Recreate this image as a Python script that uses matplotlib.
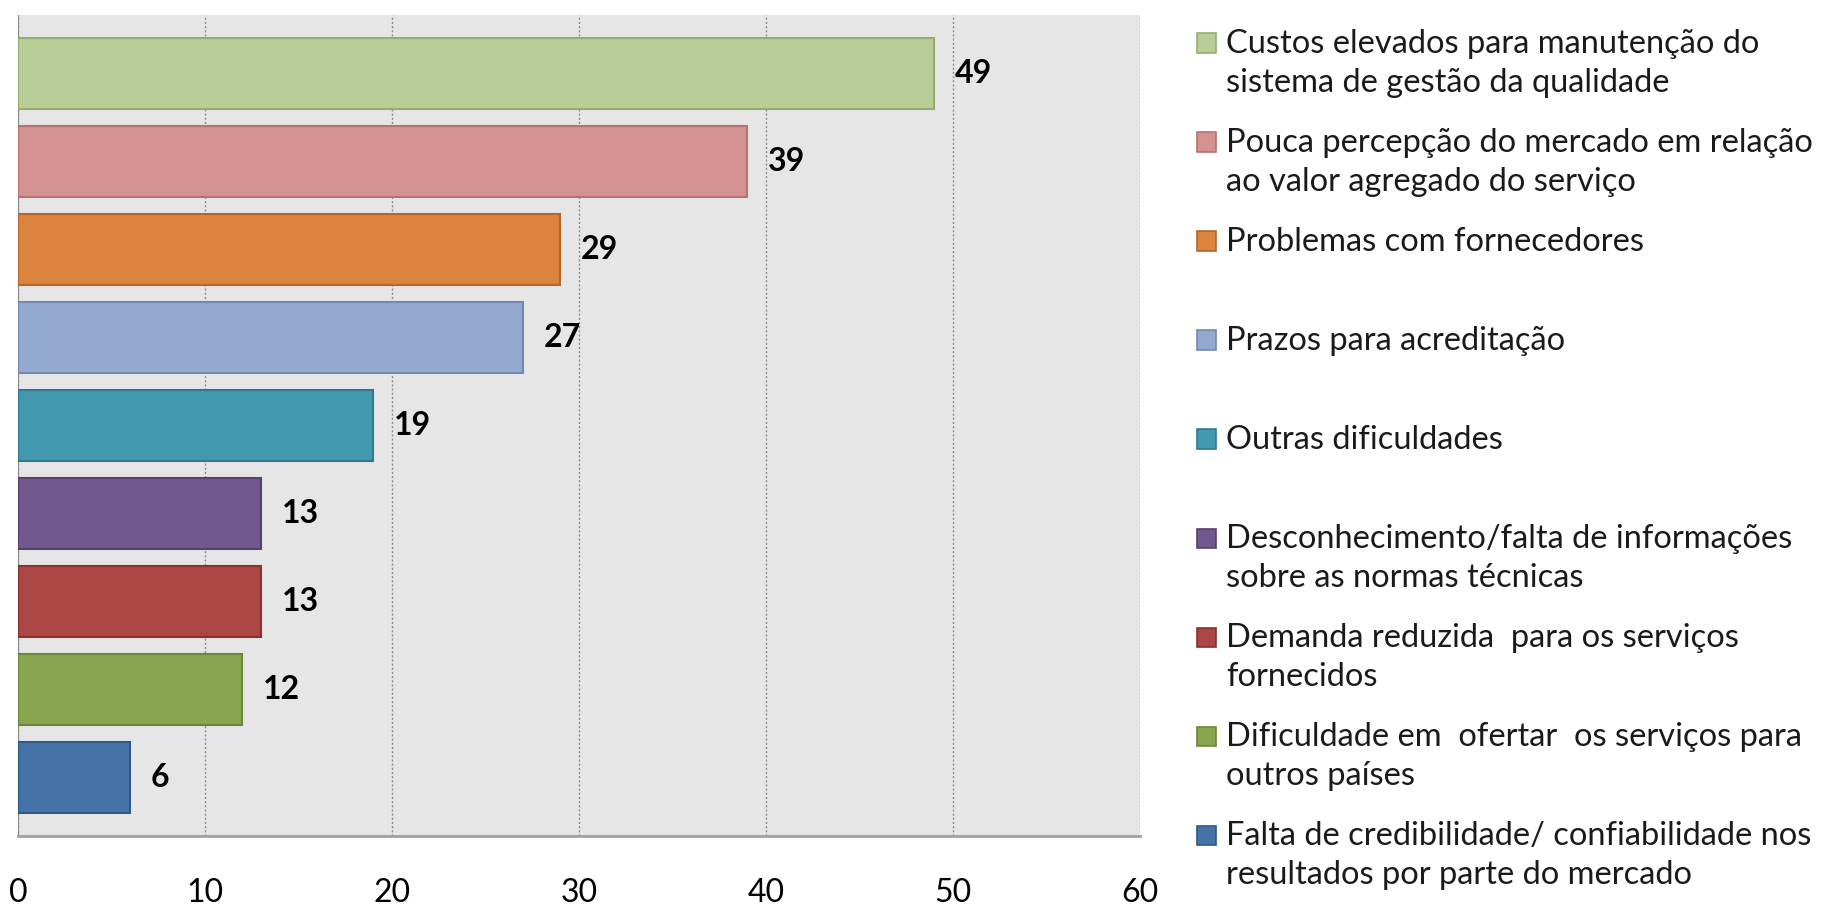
import matplotlib.pyplot as plt
from matplotlib.patches import Rectangle

categories = [
    'Custos elevados para manutenção do\nsistema de gestão da qualidade',
    'Pouca percepção do mercado em relação\nao valor agregado do serviço',
    'Problemas com fornecedores',
    'Prazos para acreditação',
    'Outras dificuldades',
    'Desconhecimento/falta de informações\nsobre as normas técnicas',
    'Demanda reduzida  para os serviços\nfornecidos',
    'Dificuldade em  ofertar  os serviços para\noutros países',
    'Falta de credibilidade/ confiabilidade nos\nresultados por parte do mercado',
]
values = [49, 39, 29, 27, 19, 13, 13, 12, 6]
colors = ['#B9CD96', '#D39190', '#DB843D', '#93A9CF', '#4198AF',
          '#71588F', '#AA4643', '#89A54E', '#4572A7']
edges = ['#96AD72', '#B87270', '#B3672A', '#7389B0', '#2F7A8E',
         '#56416F', '#8A302D', '#6C8638', '#2F5888']
xticks = [0, 10, 20, 30, 40, 50, 60]

plt.rcParams['font.family'] = ['Lato', 'DejaVu Sans']

W, H = 1826, 910
fig = plt.figure(figsize=(W / 100, H / 100), dpi=100)
ax = fig.add_axes([18 / W, 1 - 836 / H, (1140 - 18) / W, (836 - 15) / H])
ax.set_facecolor('#E6E6E6')

ypos = list(range(len(values)))
ax.barh(ypos, values, height=0.81, color=colors, edgecolor=edges, linewidth=1.5, zorder=3)
for y, v in zip(ypos, values):
    ax.annotate(str(v), (v, y), xytext=(15, 0), textcoords='offset points',
                va='center', ha='left', fontsize=23, fontweight='bold', zorder=4)

ax.set_xlim(0, 60)
ax.set_ylim(8.665, -0.665)
ax.set_xticks(xticks)
ax.set_yticks([])
ax.tick_params(axis='x', length=0, pad=30, labelsize=23)
ax.grid(axis='x', linestyle=(0, (1.5, 1.5)), color='#8C8C8C', linewidth=1, zorder=1)
for s in ['top', 'right']:
    ax.spines[s].set_visible(False)
ax.spines['left'].set_color('#8C8C8C')
ax.spines['bottom'].set_color('#A0A0A0')
ax.spines['bottom'].set_linewidth(2)

# legend drawn by hand, one slot per category
for i, (lab, c, e) in enumerate(zip(categories, colors, edges)):
    yc = 43 + i * 99
    fig.patches.append(Rectangle(((1197) / W, 1 - (yc + 9.5) / H), 19 / W, 19 / H,
                                 transform=fig.transFigure, facecolor=c, edgecolor=e, linewidth=1.2))
    for k, line in enumerate(lab.split('\n')):
        fig.text(1226 / W, 1 - (yc + 1 + k * 39) / H, line, fontsize=23.5,
                 va='center', ha='left', color='#1A1A1A')

fig.savefig('out.png', dpi=100)
